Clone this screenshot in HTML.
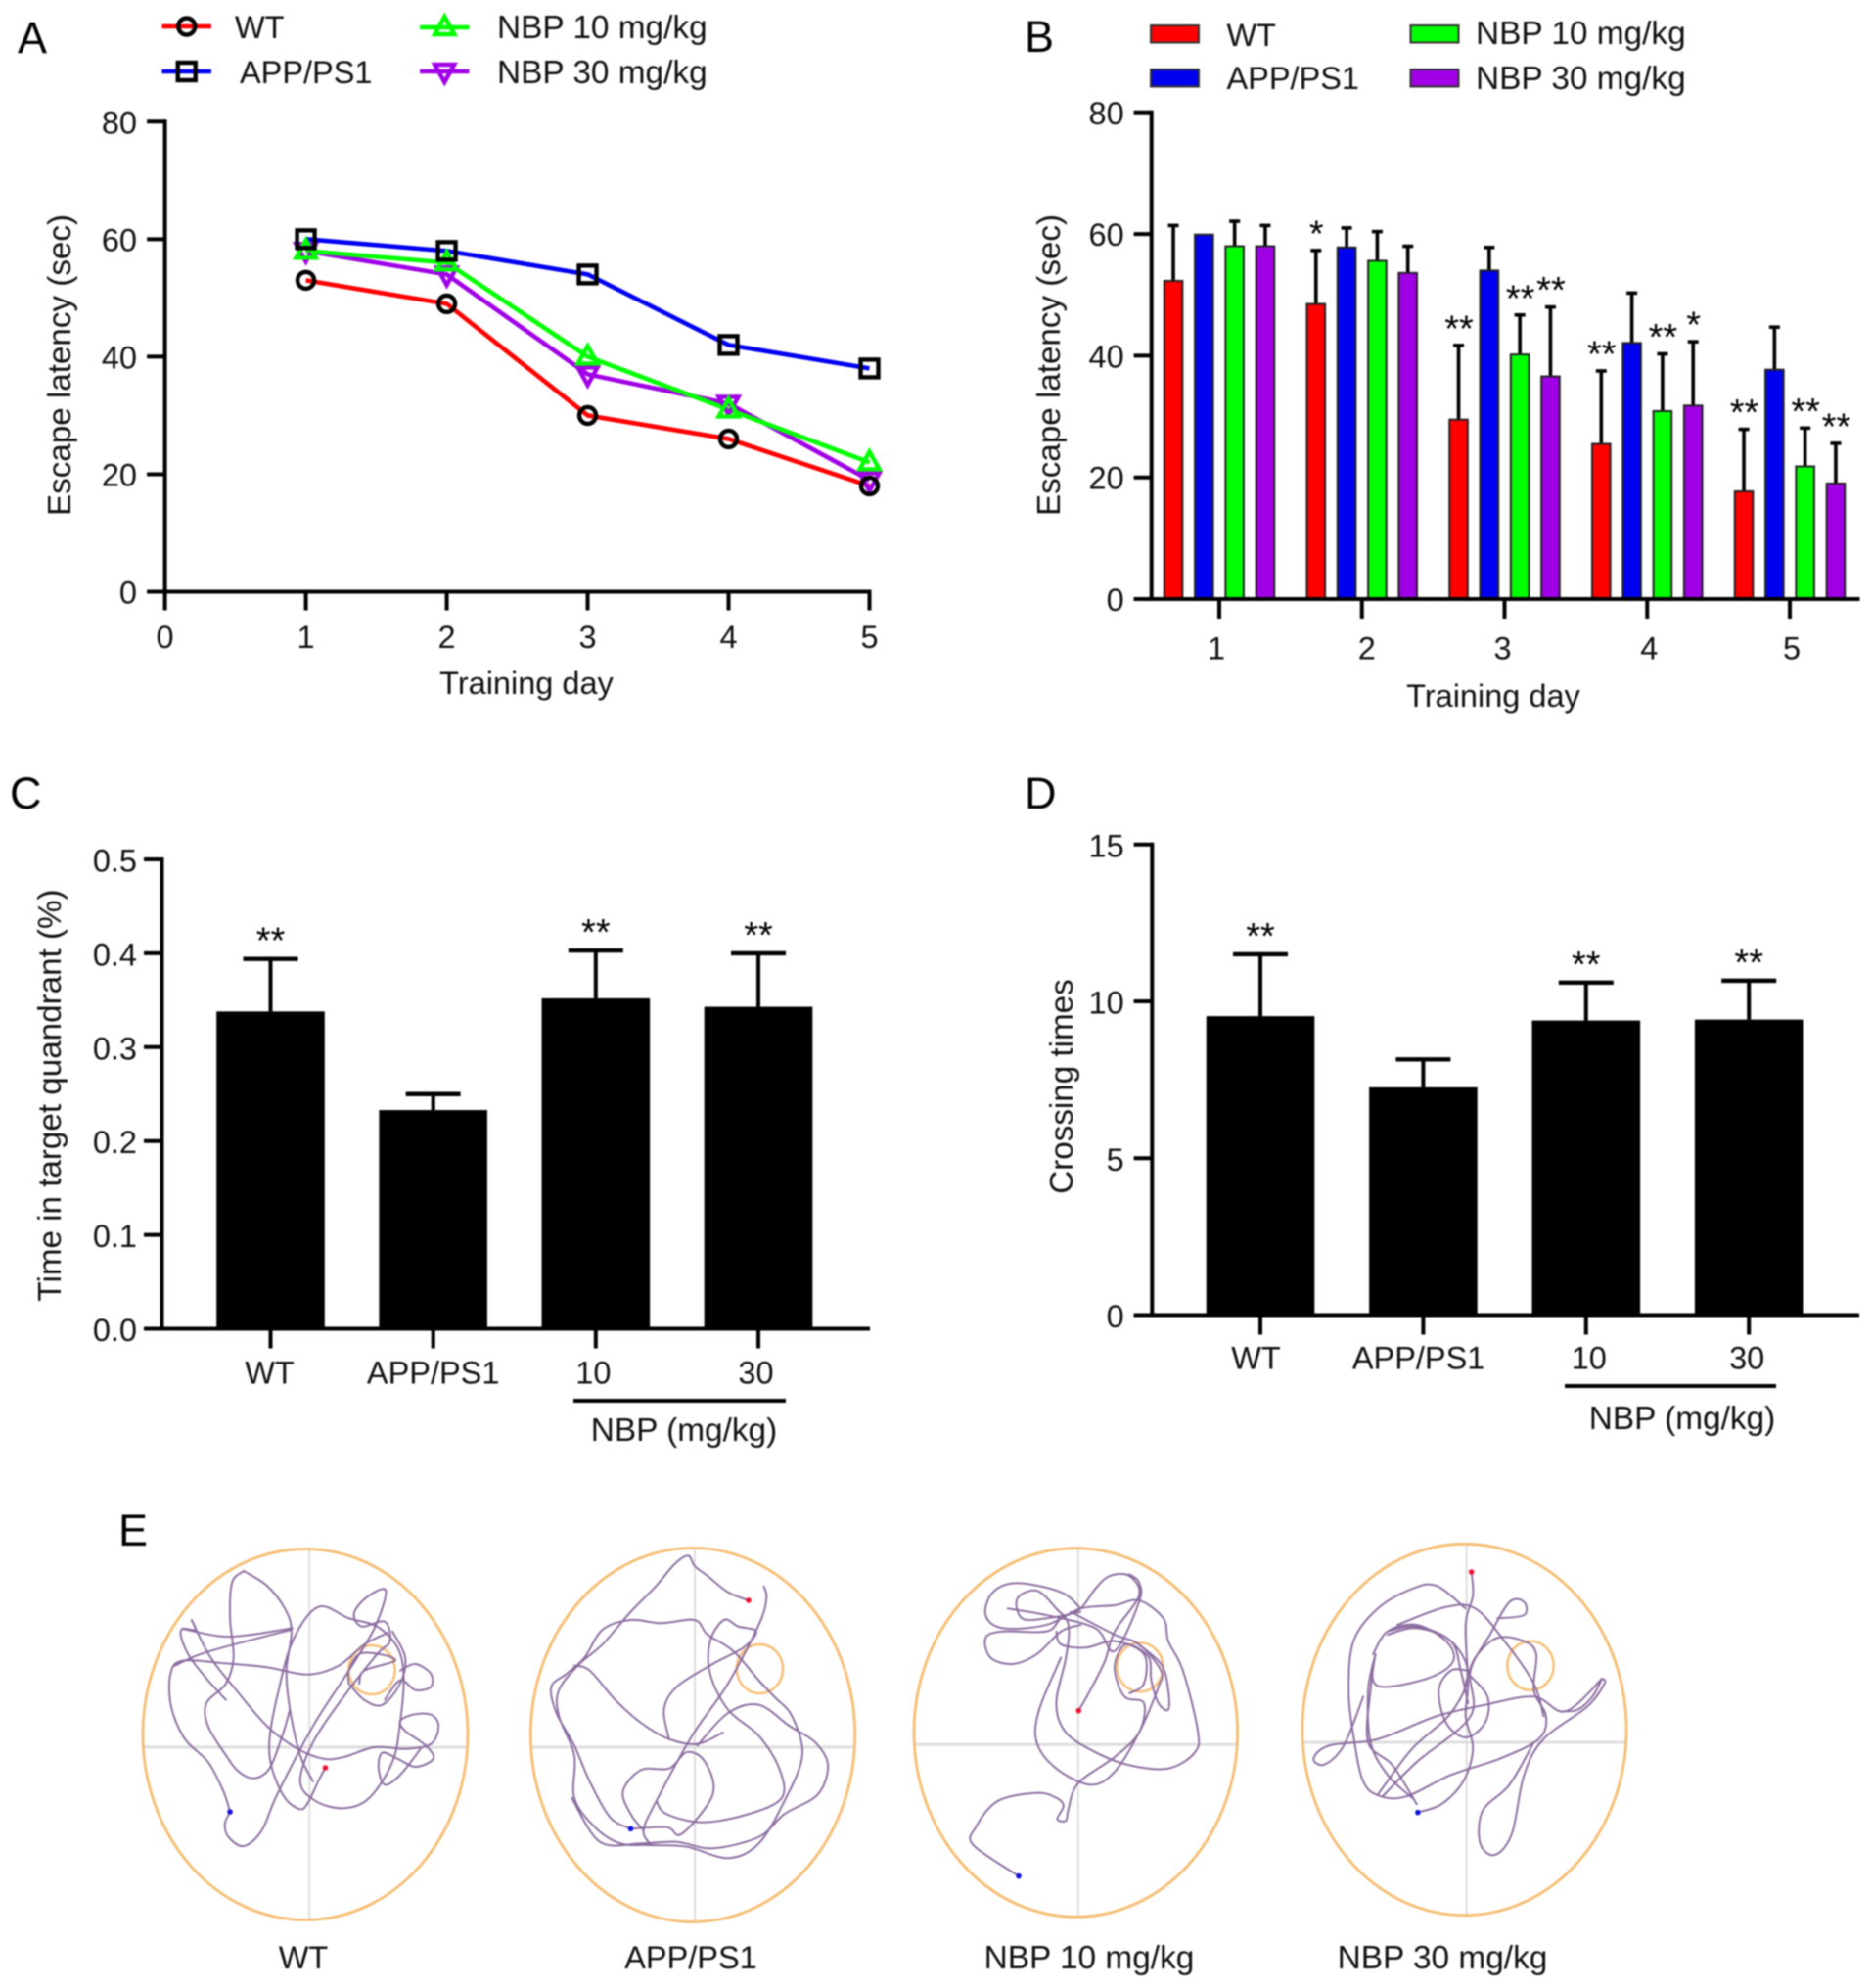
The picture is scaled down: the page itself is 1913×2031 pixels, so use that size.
<!DOCTYPE html>
<html lang="en">
<head>
<meta charset="utf-8">
<title>Escape latency and probe trial results</title>
<style>
  html, body { margin: 0; padding: 0; background: #fff; width: 1913px; height: 2031px; overflow: hidden; }
  svg { display: block; filter: blur(0.8px); }
  text { font-family: "Liberation Sans", sans-serif; font-size: 32.5px; fill: #111; }
  .panel-letter { font-size: 45px; fill: #000; }
  .y-title { font-size: 33.2px; }
  .nbp { font-size: 33.4px; }
  .stars { font-size: 38px; fill: #000; text-anchor: middle; }
</style>
</head>
<body>
<svg id="figure" xmlns="http://www.w3.org/2000/svg" width="1913" height="2031" viewBox="0 0 1913 2031">
  <rect width="1913" height="2031" fill="#fff"/>

  <g id="panel-a">
    <text class="panel-letter" x="18" y="54">A</text>
    <text class="y-title" transform="translate(72 373) rotate(-90)" text-anchor="middle">Escape latency (sec)</text>
    <text x="538" y="709" text-anchor="middle">Training day</text>
  </g>

  <g id="panel-b">
    <text class="panel-letter" x="1047" y="53">B</text>
    <text class="y-title" transform="translate(1083 373) rotate(-90)" text-anchor="middle">Escape latency (sec)</text>
    <text x="1526" y="722" text-anchor="middle">Training day</text>
  </g>

  <g id="panel-c">
    <text class="panel-letter" x="10" y="826">C</text>
    <text class="y-title" transform="translate(62 1119) rotate(-90)" text-anchor="middle">Time in target quandrant (%)</text>
    <line x1="586" x2="803" y1="1431" y2="1431" stroke="#000" stroke-width="4"/>
    <text class="nbp" x="699" y="1472" text-anchor="middle">NBP (mg/kg)</text>
  </g>

  <g id="panel-d">
    <text class="panel-letter" x="1047" y="826">D</text>
    <text class="y-title" transform="translate(1096 1110) rotate(-90)" text-anchor="middle">Crossing times</text>
    <line x1="1599" x2="1815" y1="1416" y2="1416" stroke="#000" stroke-width="4"/>
    <text class="nbp" x="1719" y="1460" text-anchor="middle">NBP (mg/kg)</text>
  </g>

  <g id="panel-e">
    <text class="panel-letter" x="121" y="1579">E</text>
    <text x="310" y="2011" text-anchor="middle">WT</text>
    <text x="706" y="2011" text-anchor="middle">APP/PS1</text>
    <text class="nbp" x="1113" y="2011" text-anchor="middle">NBP 10 mg/kg</text>
    <text class="nbp" x="1474" y="2011" text-anchor="middle">NBP 30 mg/kg</text>
  </g>
</svg>

<script>
/* ---------- Panel A data ---------- */
const lineDays = [1, 2, 3, 4, 5];
const lineXTicks = [0, 1, 2, 3, 4, 5];
const lineYTicks = [0, 20, 40, 60, 80];
const lineWT = [53, 49, 30, 26, 18];
const lineAPP = [60, 58, 54, 42, 38];
const lineNBP10 = [58, 56, 40, 31, 22];
const lineNBP30 = [58, 54, 37, 32, 19];

/* ---------- Panel B data ---------- */
const barDays = ['1', '2', '3', '4', '5'];
const barYTicks = [0, 20, 40, 60, 80];
const barWT = [52.3, 48.5, 29.5, 25.5, 17.7];
const barAPP = [59.9, 57.8, 54.0, 42.1, 37.7];
const barNBP10 = [58.0, 55.6, 40.2, 30.9, 21.8];
const barNBP30 = [58.0, 53.6, 36.6, 31.8, 19.0];
const errWT = [61.4, 57.3, 41.7, 37.5, 27.9];
const errAPP = [59.9, 61.0, 57.8, 50.3, 44.7];
const errNBP10 = [62.1, 60.4, 46.7, 40.3, 28.1];
const errNBP30 = [61.4, 58.0, 48.0, 42.3, 25.6];
const sigWT = ['', '*', '**', '**', '**'];
const sigAPP = ['', '', '', '', ''];
const sigNBP10 = ['', '', '**', '**', '**'];
const sigNBP30 = ['', '', '**', '*', '**'];

/* ---------- Panel C data ---------- */
const quadCategories = ['WT', 'APP/PS1', '10', '30'];
const quadYTicks = [0, 0.1, 0.2, 0.3, 0.4, 0.5];
const quadMeans = [0.338, 0.233, 0.352, 0.343];
const quadErrTop = [0.394, 0.25, 0.403, 0.4];
const quadSig = ['**', '', '**', '**'];

/* ---------- Panel D data ---------- */
const crossCategories = ['WT', 'APP/PS1', '10', '30'];
const crossYTicks = [0, 5, 10, 15];
const crossMeans = [9.53, 7.26, 9.39, 9.42];
const crossErrTop = [11.5, 8.15, 10.6, 10.66];
const crossSig = ['**', '', '**', '**'];

/* ---------- Panel E traced swim paths (units of the traced source crop) ---------- */
const trackWT = [
  [[444,858],[430,900],[410,965],[395,985],[365,950],[340,860],[335,770],[350,640],[380,470],[430,365],[490,400],[545,425],[585,490],[597,580],[590,720],[575,840],[530,950],[480,982],[425,960],[395,900],[420,780],[480,640],[545,510],[570,470],[560,410],[515,425],[500,385],[525,335],[562,315],[540,430],[490,560],[420,730],[350,940],[320,1050],[285,1098],[255,1070],[248,1030],[258,993]],
  [[258,993],[245,930],[215,840],[170,770],[143,670],[142,570],[165,530],[250,538],[330,550],[410,572],[470,545],[520,480],[565,445]],
  [[183,405],[220,520],[270,620],[330,730],[390,800],[440,830],[480,825],[540,795],[600,800],[650,785],[665,730],[650,695],[615,695],[590,715],[600,745],[640,790],[655,830],[620,855],[585,830],[555,812],[548,860],[560,910],[590,880],[630,800]],
  [[183,405],[190,435],[165,432],[163,460],[180,520],[215,590],[250,650]],
  [[165,432],[240,455],[300,450],[380,430]],
  [[285,255],[262,290],[258,400],[265,520],[250,600],[212,660],[215,730],[250,820],[275,870],[305,890],[335,860],[360,760],[375,680]],
  [[285,255],[330,300],[365,370],[378,440],[368,560],[375,680],[395,820],[420,900]],
  [[490,600],[520,650],[555,665],[590,600],[600,520],[575,440]],
  [[590,560],[620,540],[650,570],[650,610],[620,620],[590,590],[560,650]],
  [[510,600],[520,560],[580,530],[550,510],[510,510],[490,560],[490,600]],
  [[150,545],[200,510],[290,470],[378,435]]
];
const trackAPP = [
  [[1270,345],[1230,320],[1190,270],[1165,240],[1152,208],[1125,235],[1090,300],[1040,380],[985,480],[940,540],[900,620],[900,700],[930,820],[930,950],[970,1040],[1020,1090],[1080,1095],[1150,1100],[1230,1135],[1290,1090],[1340,960],[1375,820],[1355,700],[1320,640],[1290,590],[1240,500],[1190,450],[1165,405],[1100,415],[1040,405],[985,435],[950,520],[915,570],[885,610],[895,690],[930,790],[960,900],[1000,1010],[1040,1045]],
  [[1300,302],[1305,340],[1290,420],[1230,600],[1160,760],[1090,960],[1065,1050],[1080,1095]],
  [[1040,1045],[1110,1040],[1140,1060],[1200,940],[1185,840],[1150,810],[1115,860],[1060,865],[1025,930],[1040,1000],[1065,1050]],
  [[930,545],[960,560],[1010,650],[1060,720],[1115,770],[1170,785],[1220,750]],
  [[1115,770],[1105,680],[1130,610],[1200,540],[1260,490],[1285,440],[1250,425],[1222,405],[1195,470],[1195,570],[1230,680],[1290,760],[1330,860],[1335,950],[1270,1000],[1180,1025],[1110,1000],[1090,960]],
  [[1170,790],[1230,690],[1290,665],[1350,730],[1400,780],[1425,850],[1405,940],[1340,1000],[1290,1070],[1200,1105],[1130,1085],[1060,1090],[980,1085],[925,950]]
];
const trackNBP10 = [
  [[243,1190],[150,1095],[155,1040],[200,960],[280,935],[320,950],[335,975],[322,1015],[340,1020],[345,985],[365,905],[440,825],[490,750],[500,660],[460,640],[440,560],[450,500],[470,480],[510,520],[515,590],[530,660],[550,680],[550,620],[535,540],[480,470]],
  [[366,683],[390,620],[420,530],[440,440],[490,330],[470,270],[430,270],[400,310],[370,370],[330,400],[300,440],[210,440],[175,460],[185,520],[230,540],[280,510],[330,440],[370,420]],
  [[370,370],[330,320],[240,292],[190,320],[175,390],[210,430],[300,420],[370,370],[440,360],[490,345],[540,400],[550,470],[580,560],[610,740],[605,810],[550,860],[470,850],[400,810],[340,750],[320,660],[340,520],[345,420],[320,370],[280,315],[240,340],[250,400],[300,400],[370,380]],
  [[330,520],[285,680],[280,780],[320,860],[390,910],[440,870],[490,750],[530,610],[535,560],[490,480],[440,450],[350,380]],
  [[320,440],[330,480],[380,490],[440,470],[500,510],[500,600],[470,630]],
  [[220,370],[300,390],[400,430],[440,500],[490,350],[490,290],[470,265]]
];
const trackNBP30 = [
  [[1172,258],[1175,330],[1160,420],[1165,600],[1160,700],[1175,800],[1155,900],[1110,970],[1060,995]],
  [[1160,370],[1100,300],[1050,310],[980,370],[930,470],[920,620],[930,760],[950,900],[985,945],[1040,945],[1130,880],[1230,830],[1310,770],[1325,700],[1300,620],[1305,510],[1280,470],[1225,460],[1180,520],[1160,600]],
  [[970,510],[1000,440],[1060,420],[1120,470],[1135,530],[1090,580],[1000,610],[970,590],[975,510],[965,620],[960,780],[1010,850],[1060,970]],
  [[1225,400],[1280,390],[1280,350],[1250,350],[1210,450],[1170,560],[1170,700],[1060,840],[990,945]],
  [[1440,585],[1365,685],[1300,640],[1200,665],[1100,700],[980,770],[880,790],[848,830],[870,848],[910,790],[950,640]],
  [[1440,585],[1445,600],[1410,670],[1320,770],[1280,880],[1255,1060],[1220,1125],[1190,1090],[1195,990],[1250,910],[1300,780]],
  [[1165,560],[1130,560],[1105,620],[1120,720],[1160,765],[1200,720],[1205,640],[1165,570]],
  [[1020,420],[1120,365],[1180,370],[1240,470],[1300,600],[1320,700]],
  [[1360,685],[1390,680],[1420,640],[1440,585]],
  [[1000,450],[1060,430],[1130,470],[1165,570],[1130,690],[1050,800],[980,940]],
  [[975,510],[960,620],[965,780],[1000,880],[1050,950]],
  [[1000,440],[1060,425],[1130,470],[1150,560],[1165,660]]
];

/* ---------- helpers ---------- */
const NS = 'http://www.w3.org/2000/svg';
const linear = (d0, d1, r0, r1) => v => r0 + (v - d0) * (r1 - r0) / (d1 - d0);
const INK = '#000';
const RED = '#ff0000', BLUE = '#0000f0', GREEN = '#00ff00', PURPLE = '#a000e6';

function mk(tag, attrs, parent) {
  const el = document.createElementNS(NS, tag);
  for (const k in attrs) el.setAttribute(k, attrs[k]);
  parent.appendChild(el);
  return el;
}

function hLine(parent, name, x1, x2, y, w) {
  const el = mk('line', { x1: x1, x2: x2, y1: y, y2: y, stroke: INK, 'stroke-width': w || 4 }, parent);
  
  
  return el;
}
function vLine(parent, name, x, y1, y2, w) {
  const el = mk('line', { x1: x, x2: x, y1: y1, y2: y2, stroke: INK, 'stroke-width': w || 4 }, parent);
  
  
  return el;
}
function label(parent, name, x, y, str, anchor, cls) {
  const el = mk('text', { x: x, y: y, 'text-anchor': anchor || 'middle' }, parent);
  if (cls) el.setAttribute('class', cls);
  el.textContent = str;
  
  
  return el;
}

function drawMarker(parent, name, shape, x, y, color) {
  let el;
  const base = { fill: 'none', 'stroke-width': 4.4, stroke: color };
  if (shape === 'circle') {
    el = mk('circle', Object.assign({ cx: x, cy: y, r: 8.5 }, base), parent);
  } else if (shape === 'square') {
    el = mk('rect', Object.assign({ x: x - 9, y: y - 9, width: 18, height: 18 }, base), parent);
  } else if (shape === 'up') {
    el = mk('path', Object.assign({ d: 'M' + x + ' ' + (y - 11) + 'L' + (x + 10) + ' ' + (y + 7) + 'L' + (x - 10) + ' ' + (y + 7) + 'Z' }, base), parent);
  } else {
    el = mk('path', Object.assign({ d: 'M' + x + ' ' + (y + 11) + 'L' + (x + 10) + ' ' + (y - 7) + 'L' + (x - 10) + ' ' + (y - 7) + 'Z' }, base), parent);
  }
  
  
  return el;
}

/* ---------- Panel A ---------- */
(function () {
  const g = document.getElementById('panel-a');
  const x = linear(0, 5, 168.6, 888.5);
  const y = linear(0, 80, 604.5, 124.3);
  const series = [
    { key: 'nbp-30', values: lineNBP30, color: PURPLE, shape: 'down', marker: PURPLE },
    { key: 'nbp-10', values: lineNBP10, color: GREEN, shape: 'up', marker: GREEN },
    { key: 'app-ps1', values: lineAPP, color: BLUE, shape: 'square', marker: INK },
    { key: 'wt', values: lineWT, color: RED, shape: 'circle', marker: INK }
  ];
  series.forEach(function (s) {
    const pts = s.values.map(function (v, i) { return x(lineDays[i]) + ',' + y(v); }).join(' ');
    const line = mk('polyline', { points: pts, fill: 'none', stroke: s.color, 'stroke-width': 4.6, 'stroke-linejoin': 'round' }, g);
    
    
  });
  series.forEach(function (s) {
    s.values.forEach(function (v, i) {
      drawMarker(g, 'point-' + s.key + '-day-' + lineDays[i], s.shape, x(lineDays[i]), y(v), s.marker);
    });
  });
  vLine(g, 'panel-a-y-axis', x(0), y(80) - 2, y(0) + 2);
  hLine(g, 'panel-a-x-axis', x(0), x(5) + 2, y(0));
  lineYTicks.forEach(function (t) {
    hLine(g, 'panel-a-y-tick-' + t, x(0) - 18.5, x(0), y(t));
    label(g, 'panel-a-y-tick-label-' + t, 140, y(t) + 12, String(t), 'end');
  });
  lineXTicks.forEach(function (t) {
    vLine(g, 'panel-a-x-tick-' + t, x(t), y(0), y(0) + 19);
    label(g, 'panel-a-x-tick-label-' + t, x(t), 662, String(t));
  });
  const legend = [
    ['wt', 'WT', 165.5, 216, 27, RED, 'circle', INK, 240, 39, ''],
    ['app-ps1', 'APP/PS1', 165.5, 216, 73, BLUE, 'square', INK, 245, 85, ''],
    ['nbp-10', 'NBP 10 mg/kg', 429, 479.5, 28, GREEN, 'up', GREEN, 508, 39, 'nbp'],
    ['nbp-30', 'NBP 30 mg/kg', 429, 479.5, 73, PURPLE, 'down', PURPLE, 508, 85, 'nbp']
  ];
  legend.forEach(function (e) {
    const sw = mk('line', { x1: e[2], x2: e[3], y1: e[4], y2: e[4], stroke: e[5], 'stroke-width': 4.6 }, g);
    
    
    drawMarker(g, 'legend-marker-' + e[0], e[6], (e[2] + e[3]) / 2, e[4], e[7]);
    label(g, 'legend-label-' + e[0], e[8], e[9], e[1], 'start', e[10]);
  });
})();

/* ---------- Panel B ---------- */
(function () {
  const g = document.getElementById('panel-b');
  const y = linear(0, 80, 612, 114.8);
  const dayX = linear(0, 4, 1246, 1829);
  const dayLabelNudge = [-3, 5, -2, 2, 2];
  const axisX = 1176.7;
  const step = 31.3, barW = 18.6;
  const series = [
    { key: 'wt', means: barWT, err: errWT, sig: sigWT, color: RED },
    { key: 'app-ps1', means: barAPP, err: errAPP, sig: sigAPP, color: BLUE },
    { key: 'nbp-10', means: barNBP10, err: errNBP10, sig: sigNBP10, color: GREEN },
    { key: 'nbp-30', means: barNBP30, err: errNBP30, sig: sigNBP30, color: PURPLE }
  ];
  series.forEach(function (s, si) {
    s.means.forEach(function (m, di) {
      const cx = dayX(di) + (si - 1.5) * step;
      if (s.err[di] > m) {
        vLine(g, 'error-bar-' + s.key + '-day-' + barDays[di], cx, y(s.err[di]), y(m), 3.6);
        hLine(g, 'error-cap-' + s.key + '-day-' + barDays[di], cx - 5.5, cx + 5.5, y(s.err[di]), 3.6);
      }
      const bar = mk('rect', { x: cx - barW / 2, y: y(m), width: barW, height: y(0) - y(m), fill: s.color, stroke: '#222', 'stroke-width': 2 }, g);
      
      
      if (s.sig[di]) {
        label(g, 'significance-' + s.key + '-day-' + barDays[di], cx + 0.5, y(s.err[di]) - 4.5, s.sig[di], 'middle', 'stars');
      }
    });
  });
  vLine(g, 'panel-b-y-axis', axisX, y(80) - 2, y(0));
  hLine(g, 'panel-b-x-axis', 1158.6, 1900.5, y(0));
  barYTicks.forEach(function (t) {
    hLine(g, 'panel-b-y-tick-' + t, 1158.6, axisX, y(t));
    label(g, 'panel-b-y-tick-label-' + t, 1148.7, y(t) + 12, String(t), 'end');
  });
  barDays.forEach(function (d, i) {
    vLine(g, 'panel-b-x-tick-' + d, dayX(i), y(0), y(0) + 20);
    label(g, 'panel-b-x-tick-label-' + d, dayX(i) + dayLabelNudge[i], 673.5, d);
  });
  const legend = [
    ['wt', 'WT', 1176, 26, RED, 1253.5, 47, ''],
    ['app-ps1', 'APP/PS1', 1176, 71, BLUE, 1253.5, 91, ''],
    ['nbp-10', 'NBP 10 mg/kg', 1441.5, 26, GREEN, 1508, 45, 'nbp'],
    ['nbp-30', 'NBP 30 mg/kg', 1441.5, 71, PURPLE, 1508, 91, 'nbp']
  ];
  legend.forEach(function (e) {
    const sw = mk('rect', { x: e[2], y: e[3], width: 49, height: 17.5, fill: e[4], stroke: '#333', 'stroke-width': 2 }, g);
    
    
    label(g, 'legend-label-b-' + e[0], e[5], e[6], e[1], 'start', e[7]);
  });
})();

/* ---------- Panels C and D ---------- */
function blackBarChart(cfg) {
  const g = document.getElementById(cfg.id);
  const y = linear(0, cfg.max, cfg.y0, cfg.yMax);
  const x = linear(0, 3, cfg.xFirst, cfg.xLast);
  const prefix = cfg.prefix;
  cfg.categories.forEach(function (c, i) {
    const cx = x(i);
    vLine(g, prefix + '-error-bar-' + i, cx, y(cfg.errTop[i]), y(cfg.means[i]), 4);
    hLine(g, prefix + '-error-cap-' + i, cx - 28, cx + 28, y(cfg.errTop[i]), 4.4);
    const bar = mk('rect', { x: cx - 55.3, y: y(cfg.means[i]), width: 110.6, height: y(0) - y(cfg.means[i]), fill: '#000' }, g);
    
    
    if (cfg.sig[i]) {
      label(g, prefix + '-significance-' + i, cx, y(cfg.errTop[i]) - 6, cfg.sig[i], 'middle', 'stars');
    }
    vLine(g, prefix + '-x-tick-' + i, cx, y(0), y(0) + 20);
    label(g, prefix + '-x-tick-label-' + i, cx + cfg.labelNudge[i], cfg.labelY, c);
  });
  vLine(g, prefix + '-y-axis', cfg.axisX, cfg.yMax - 2, y(0));
  hLine(g, prefix + '-x-axis', cfg.xStart, cfg.xEnd, y(0));
  cfg.ticks.forEach(function (t) {
    hLine(g, prefix + '-y-tick-' + t, cfg.xStart, cfg.axisX, y(t));
    label(g, prefix + '-y-tick-label-' + t, cfg.tickRight, y(t) + 12.5, cfg.fmt(t), 'end');
  });
}
blackBarChart({ id: 'panel-c', prefix: 'panel-c', categories: quadCategories, means: quadMeans, errTop: quadErrTop, sig: quadSig, ticks: quadYTicks, max: 0.5, y0: 1357.5, yMax: 878, xFirst: 276.5, xLast: 775, labelNudge: [-1, 0, -2.5, -2.5], axisX: 165.5, xStart: 147, xEnd: 889, tickRight: 140, labelY: 1413.5, fmt: function (t) { return t.toFixed(1); } });
blackBarChart({ id: 'panel-d', prefix: 'panel-d', categories: crossCategories, means: crossMeans, errTop: crossErrTop, sig: crossSig, ticks: crossYTicks, max: 15, y0: 1343.5, yMax: 862.8, xFirst: 1288, xLast: 1787.2, labelNudge: [-4.5, -4.8, 3, -2], axisX: 1177.3, xStart: 1158.6, xEnd: 1900, tickRight: 1148.7, labelY: 1398.5, fmt: function (t) { return String(t); } });

/* ---------- Panel E ---------- */
function smooth(pts) {
  let d = 'M' + pts[0][0].toFixed(1) + ' ' + pts[0][1].toFixed(1);
  for (let i = 0; i < pts.length - 1; i++) {
    const p0 = pts[Math.max(i - 1, 0)], p1 = pts[i], p2 = pts[i + 1], p3 = pts[Math.min(i + 2, pts.length - 1)];
    const c1x = p1[0] + (p2[0] - p0[0]) / 6, c1y = p1[1] + (p2[1] - p0[1]) / 6;
    const c2x = p2[0] - (p3[0] - p1[0]) / 6, c2y = p2[1] - (p3[1] - p1[1]) / 6;
    d += 'C' + c1x.toFixed(1) + ' ' + c1y.toFixed(1) + ' ' + c2x.toFixed(1) + ' ' + c2y.toFixed(1) + ' ' + p2[0].toFixed(1) + ' ' + p2[1].toFixed(1);
  }
  return d;
}
function drawPool(cfg) {
  const root = document.getElementById('panel-e');
  const g = mk('g', {}, root);
  
  
  const vl = mk('line', { x1: cfg.vx, x2: cfg.vx, y1: cfg.cy - cfg.ry, y2: cfg.cy + cfg.ry, stroke: '#dedede', 'stroke-width': 2 }, g);
  
  
  const hl = mk('line', { x1: cfg.cx - cfg.rx, x2: cfg.cx + cfg.rx, y1: cfg.hy, y2: cfg.hy, stroke: '#dedede', 'stroke-width': 3 }, g);
  
  
  const pool = mk('ellipse', { cx: cfg.cx, cy: cfg.cy, rx: cfg.rx, ry: cfg.ry, fill: 'none', stroke: '#f6bd72', 'stroke-width': 2.8 }, g);
  
  
  const platform = mk('ellipse', { cx: cfg.px, cy: cfg.py, rx: 23.6, ry: 25, fill: 'none', stroke: '#f6bd72', 'stroke-width': 2.4 }, g);
  
  
  cfg.track.forEach(function (stroke, si) {
    const mapped = stroke.map(function (p) { return [cfg.ox + p[0] / cfg.sx, 1520 + p[1] / 3]; });
    const path = mk('path', { d: smooth(mapped), fill: 'none', stroke: '#8a6a9e', 'stroke-width': 1.9, 'stroke-linejoin': 'round', 'stroke-linecap': 'round' }, g);
    
    
  });
  const redDot = mk('circle', { cx: cfg.ox + cfg.red[0] / cfg.sx, cy: 1520 + cfg.red[1] / 3, r: 2.8, fill: '#f01030' }, g);
  
  
  const blueDot = mk('circle', { cx: cfg.ox + cfg.blue[0] / cfg.sx, cy: 1520 + cfg.blue[1] / 3, r: 2.8, fill: '#1010e0' }, g);
  
  
}
drawPool({ key: 'wt', track: trackWT, ox: 100, sx: 1.91, cx: 312, cy: 1772, rx: 166, ry: 189.5, vx: 316.2, hy: 1785, px: 380, py: 1706, red: [444, 858], blue: [258, 993] });
drawPool({ key: 'app-ps1', track: trackAPP, ox: 100, sx: 1.91, cx: 708, cy: 1772.5, rx: 165.7, ry: 191, vx: 710, hy: 1785, px: 776.4, py: 1705, red: [1270, 345], blue: [1040, 1045] });
drawPool({ key: 'nbp-10', track: trackNBP10, ox: 920, sx: 2.008, cx: 1099.3, cy: 1770, rx: 165.3, ry: 188.3, vx: 1101.8, hy: 1782.3, px: 1165, py: 1703.3, red: [366, 683], blue: [243, 1190] });
drawPool({ key: 'nbp-30', track: trackNBP30, ox: 920, sx: 2.008, cx: 1496.5, cy: 1767, rx: 165.6, ry: 189.7, vx: 1498.7, hy: 1780, px: 1564, py: 1701.7, red: [1172, 258], blue: [1062, 995] });
</script>
</body>
</html>
